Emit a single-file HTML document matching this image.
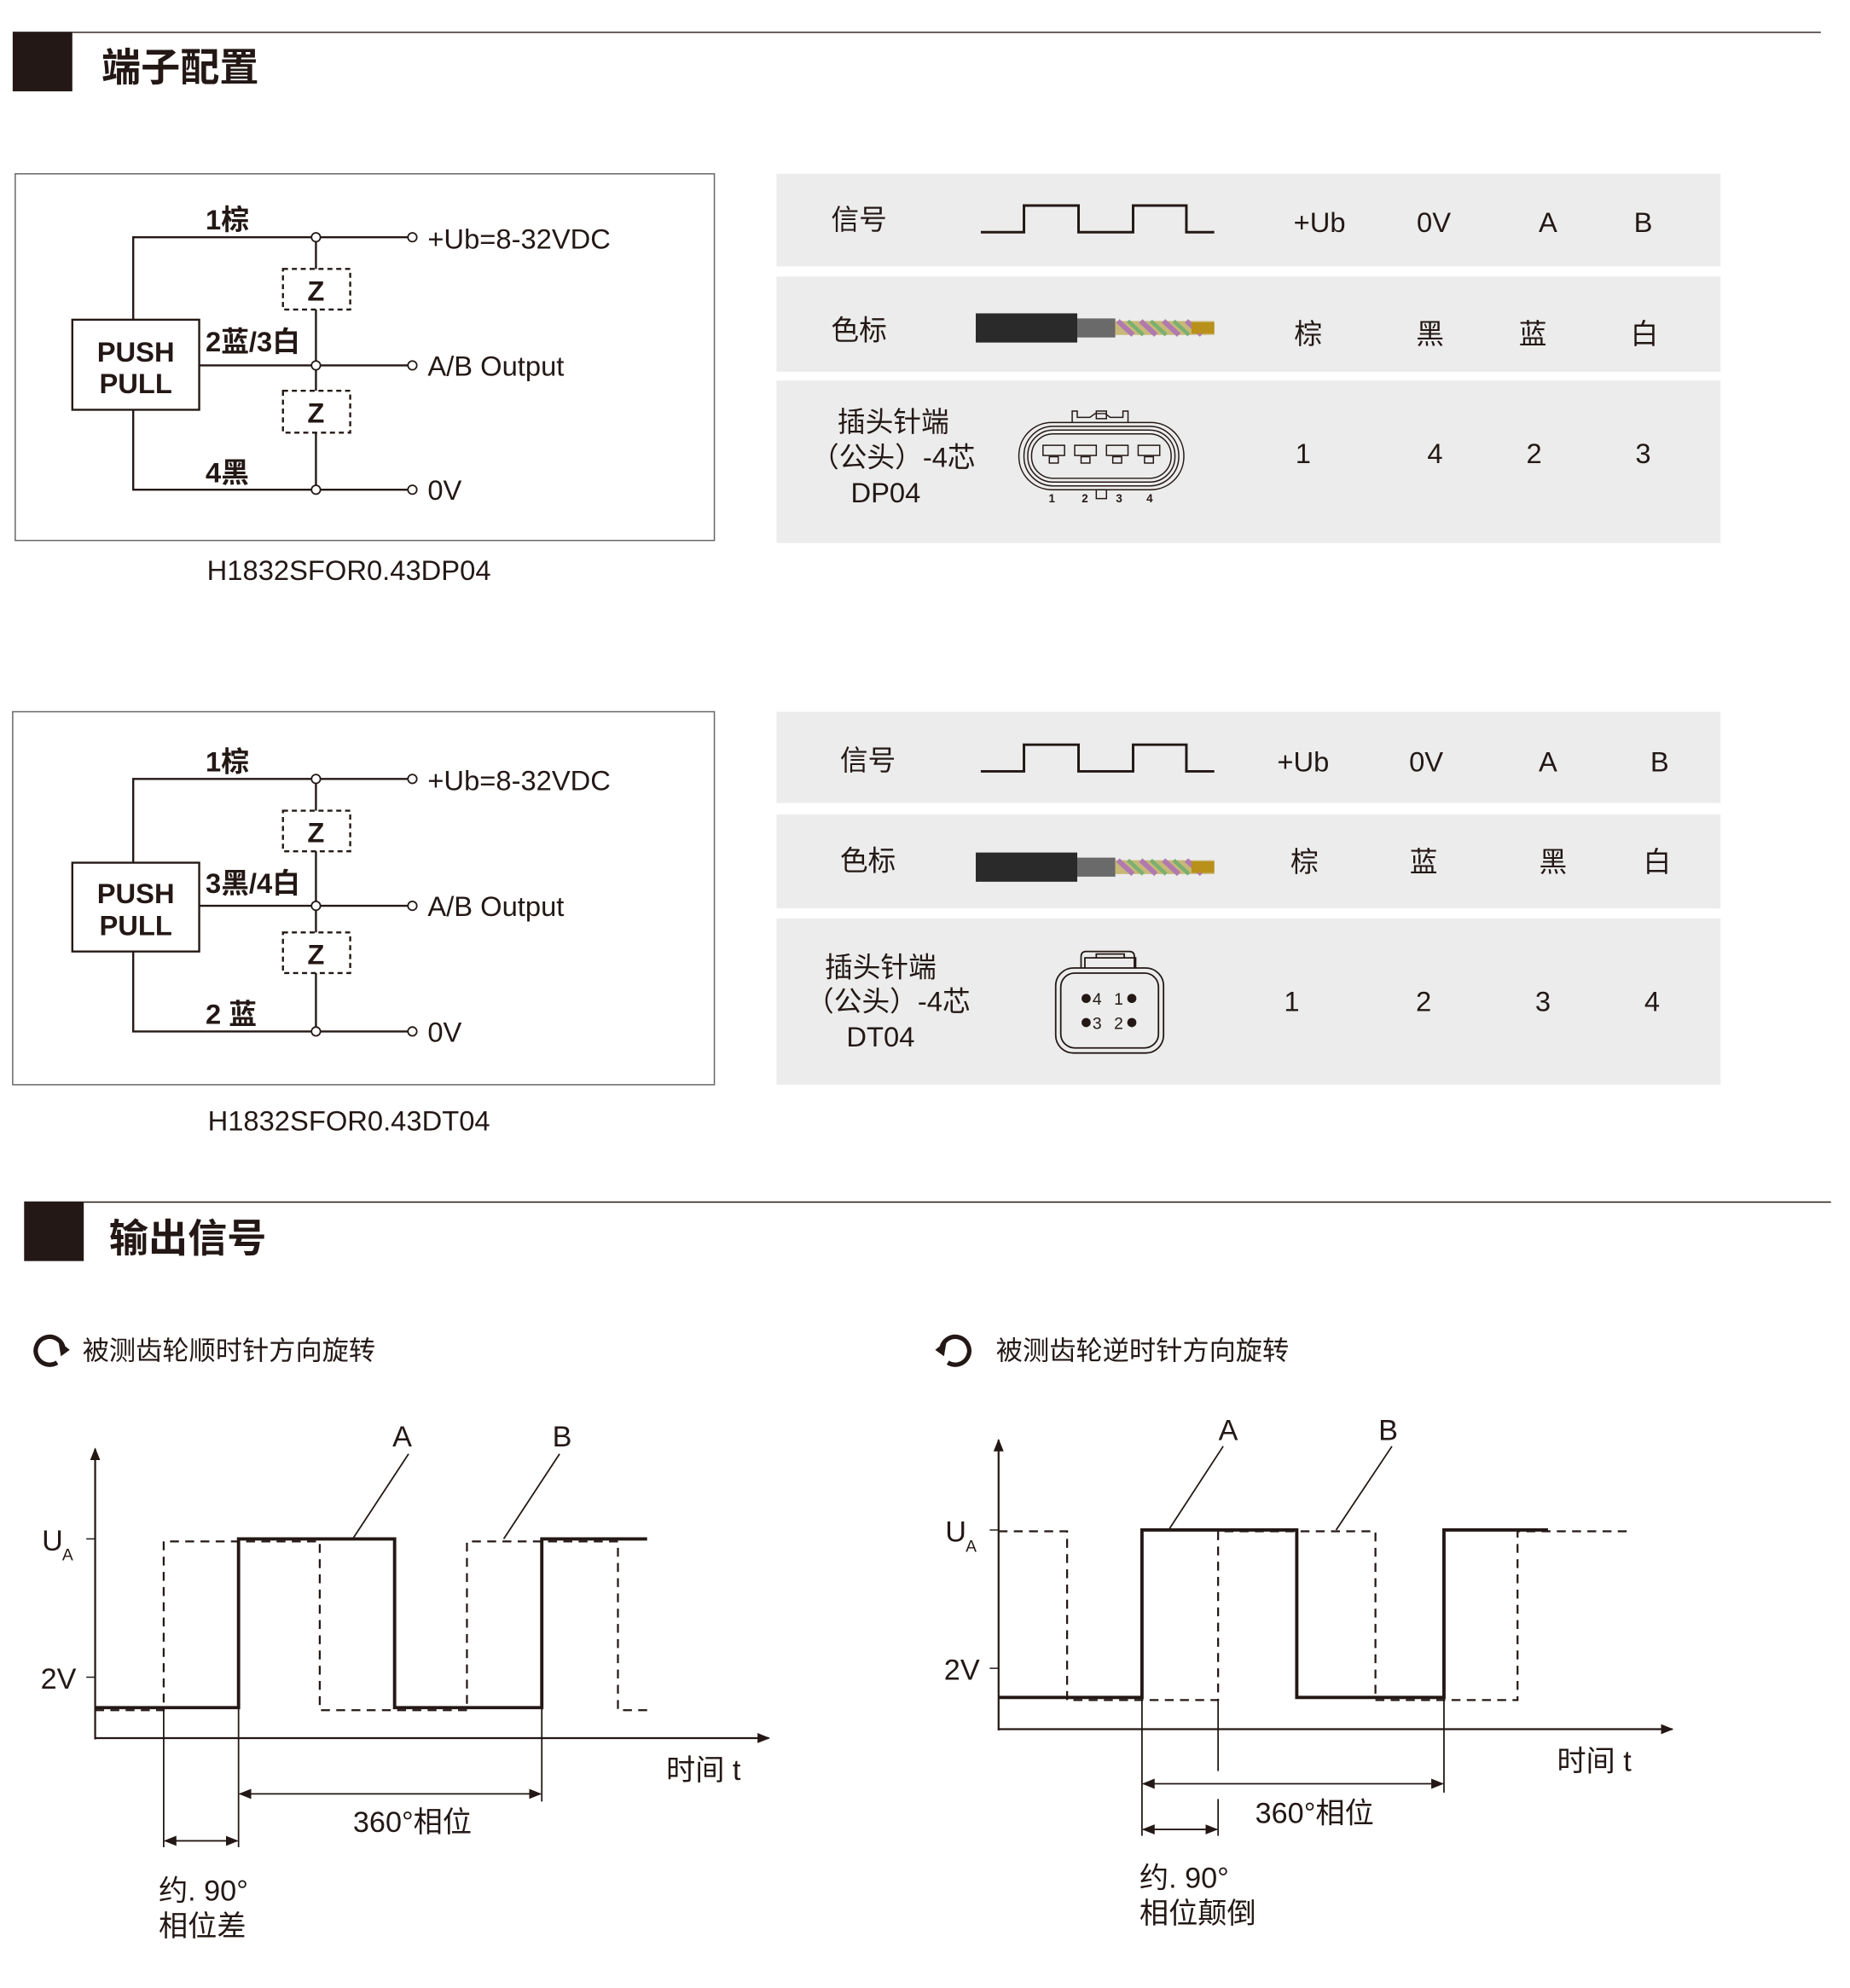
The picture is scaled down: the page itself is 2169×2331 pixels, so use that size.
<!DOCTYPE html>
<html><head><meta charset="utf-8"><style>
html,body{margin:0;padding:0;background:#fff}
svg{display:block}
text{font-family:"Liberation Sans","Noto Sans CJK SC",sans-serif;fill:#231815}
</style></head><body>
<svg width="2169" height="2331" viewBox="0 0 1458 1567" preserveAspectRatio="none" xmlns="http://www.w3.org/2000/svg">
<defs>
<g id="cable">
<rect x="0" y="0" width="80" height="23" fill="#2a2a2a"/>
<rect x="80" y="4" width="30" height="15" fill="#6a6a6a"/>
<path d="M110 6 L188 6 L188 17 L110 17Z" fill="#c8b878"/>
<path d="M112 6 l12 11 M130 6 l12 11 M148 6 l12 11 M166 6 l12 11" stroke="#b07ab0" stroke-width="4"/>
<path d="M120 6 l12 11 M138 6 l12 11 M156 6 l12 11" stroke="#7ab070" stroke-width="3"/>
<rect x="170" y="7" width="18" height="9" fill="#b8901a"/>
</g>
<marker id="ar" markerWidth="10" markerHeight="8" refX="9" refY="4" orient="auto-start-reverse" markerUnits="userSpaceOnUse"><path d="M0 0 L10 4 L0 8Z" fill="#231815"/></marker>
</defs>

<rect x="10" y="25" width="47" height="47" fill="#231815"/>
<line x1="57" y1="25.5" x2="1435" y2="25.5" stroke="#231815" stroke-width="1"/>
<text x="80" y="64" font-size="31" font-weight="bold">端子配置</text>

<g stroke="#231815" stroke-width="1.6" fill="none">
<rect x="12" y="137" width="551" height="289" stroke="#666" stroke-width="1"/>
<polyline points="105,252 105,187 325,187"/>
<polyline points="105,323 105,386 325,386"/>
<line x1="157" y1="288" x2="325" y2="288"/>
<line x1="249" y1="187" x2="249" y2="212"/><line x1="249" y1="244" x2="249" y2="308"/><line x1="249" y1="341" x2="249" y2="386"/>
<rect x="57" y="252" width="100" height="71" fill="#fff"/>
<rect x="223" y="212" width="53" height="32" stroke-dasharray="4,3"/>
<rect x="223" y="308" width="53" height="33" stroke-dasharray="4,3"/>
<g fill="#fff" stroke-width="1.2"><circle cx="249" cy="187" r="3.5"/><circle cx="249" cy="288" r="3.5"/><circle cx="249" cy="386" r="3.5"/><circle cx="325" cy="187" r="3.5"/><circle cx="325" cy="288" r="3.5"/><circle cx="325" cy="386" r="3.5"/></g>
</g>
<g font-weight="bold" font-size="22">
<text x="107" y="285" text-anchor="middle">PUSH</text><text x="107" y="310" text-anchor="middle">PULL</text>
<text x="249" y="237" text-anchor="middle">Z</text><text x="249" y="333" text-anchor="middle">Z</text>
<text x="162" y="181">1棕</text><text x="162" y="277">2蓝/3白</text><text x="162" y="380">4黑</text>
</g>
<g font-size="22"><text x="337" y="196">+Ub=8-32VDC</text><text x="337" y="296">A/B Output</text><text x="337" y="394">0V</text>
<text x="275" y="457" text-anchor="middle">H1832SFOR0.43DP04</text></g>

<g stroke="#231815" stroke-width="1.6" fill="none">
<rect x="10" y="561" width="553" height="294" stroke="#666" stroke-width="1"/>
<polyline points="105,680 105,614 325,614"/>
<polyline points="105,750 105,813 325,813"/>
<line x1="157" y1="714" x2="325" y2="714"/>
<line x1="249" y1="614" x2="249" y2="639"/><line x1="249" y1="671" x2="249" y2="735"/><line x1="249" y1="767" x2="249" y2="813"/>
<rect x="57" y="680" width="100" height="70" fill="#fff"/>
<rect x="223" y="639" width="53" height="32" stroke-dasharray="4,3"/>
<rect x="223" y="735" width="53" height="32" stroke-dasharray="4,3"/>
<g fill="#fff" stroke-width="1.2"><circle cx="249" cy="614" r="3.5"/><circle cx="249" cy="714" r="3.5"/><circle cx="249" cy="813" r="3.5"/><circle cx="325" cy="614" r="3.5"/><circle cx="325" cy="714" r="3.5"/><circle cx="325" cy="813" r="3.5"/></g>
</g>
<g font-weight="bold" font-size="22">
<text x="107" y="712" text-anchor="middle">PUSH</text><text x="107" y="737" text-anchor="middle">PULL</text>
<text x="249" y="664" text-anchor="middle">Z</text><text x="249" y="760" text-anchor="middle">Z</text>
<text x="162" y="608">1棕</text><text x="162" y="704">3黑/4白</text><text x="162" y="807">2 蓝</text>
</g>
<g font-size="22"><text x="337" y="623">+Ub=8-32VDC</text><text x="337" y="722">A/B Output</text><text x="337" y="821">0V</text>
<text x="275" y="891" text-anchor="middle">H1832SFOR0.43DT04</text></g>

<g fill="#ececec"><rect x="612" y="137" width="744" height="73"/><rect x="612" y="218" width="744" height="75"/><rect x="612" y="300" width="744" height="128"/>
<rect x="612" y="561" width="744" height="72"/><rect x="612" y="642" width="744" height="74"/><rect x="612" y="724" width="744" height="131"/></g>
<g font-size="22" text-anchor="middle">
<text x="677" y="181">信号</text>
<text x="1040" y="183">+Ub</text><text x="1130" y="183">0V</text><text x="1220" y="183">A</text><text x="1295" y="183">B</text>
<text x="677" y="268">色标</text>
<text x="1031" y="271">棕</text><text x="1127" y="271">黑</text><text x="1208" y="271">蓝</text><text x="1296" y="271">白</text>
<text x="704" y="340">插头针端</text><text x="704" y="368">（公头）-4芯</text><text x="698" y="396">DP04</text>
<text x="1027" y="365">1</text><text x="1131" y="365">4</text><text x="1209" y="365">2</text><text x="1295" y="365">3</text>

<text x="684" y="607">信号</text>
<text x="1027" y="608">+Ub</text><text x="1124" y="608">0V</text><text x="1220" y="608">A</text><text x="1308" y="608">B</text>
<text x="684" y="686">色标</text>
<text x="1028" y="687">棕</text><text x="1122" y="687">蓝</text><text x="1224" y="687">黑</text><text x="1306" y="687">白</text>
<text x="694" y="770">插头针端</text><text x="700" y="797">（公头）-4芯</text><text x="694" y="825">DT04</text>
<text x="1018" y="797">1</text><text x="1122" y="797">2</text><text x="1216" y="797">3</text><text x="1302" y="797">4</text>
</g>
<g stroke="#231815" stroke-width="2" fill="none">
<polyline points="773,183 807,183 807,162 850,162 850,183 893,183 893,162 935,162 935,183 957,183"/>
<polyline points="773,608 807,608 807,587 850,587 850,608 893,608 893,587 935,587 935,608 957,608"/>
</g>
<use href="#cable" x="769" y="247"/>
<use href="#cable" x="769" y="672"/>

<g stroke="#231815" stroke-width="1" fill="none">
<rect x="803" y="333" width="130" height="53" rx="26"/>
<rect x="807" y="336" width="122" height="47" rx="23"/>
<rect x="810" y="339" width="116" height="41" rx="20"/>
<rect x="813" y="342" width="110" height="35" rx="17"/>
<path d="M845 333 v-9 h4 v5 h10 l4 -3 h8 l4 3 h10 v-5 h4 v9"/>
<rect x="864" y="324" width="8" height="6"/>
<rect x="864" y="386" width="8" height="7"/>
<rect x="822" y="351" width="17" height="8"/><rect x="847" y="351" width="17" height="8"/><rect x="872" y="351" width="17" height="8"/><rect x="897" y="351" width="17" height="8"/>
<rect x="827" y="360" width="7" height="5"/><rect x="852" y="360" width="7" height="5"/><rect x="877" y="360" width="7" height="5"/><rect x="902" y="360" width="7" height="5"/>
</g>
<g font-size="9" font-weight="bold" text-anchor="middle"><text x="829" y="396">1</text><text x="855" y="396">2</text><text x="882" y="396">3</text><text x="906" y="396">4</text></g>

<g stroke="#231815" stroke-width="1.2" fill="none">
<rect x="832" y="763" width="85" height="67" rx="14"/>
<rect x="836" y="767" width="77" height="59" rx="11"/>
<path d="M852 763 v-9 q0 -4 4 -4 h34 q4 0 4 4 v9 M855 763 v-8 h40 v8 M864 755 v-3 h22 v3"/>
</g>
<g fill="#231815"><circle cx="856" cy="787" r="3.6"/><circle cx="892" cy="787" r="3.6"/><circle cx="856" cy="806" r="3.6"/><circle cx="892" cy="806" r="3.6"/></g>
<g font-size="13"><text x="861" y="792">4</text><text x="878" y="792">1</text><text x="861" y="811">3</text><text x="878" y="811">2</text></g>

<rect x="19" y="947" width="47" height="47" fill="#231815"/>
<line x1="66" y1="947.5" x2="1443" y2="947.5" stroke="#231815" stroke-width="1"/>
<text x="86" y="987" font-size="31" font-weight="bold">输出信号</text>

<g stroke="#231815" stroke-width="3.5" fill="none">
<path d="M45 1074 A11 11 0 1 1 50 1063"/>
<path d="M747 1074 A11 11 0 1 0 742 1063"/>
</g>
<path d="M46 1057 L55 1064 L48 1069Z" fill="#231815"/>
<path d="M746 1057 L737 1064 L744 1069Z" fill="#231815"/>
<g font-size="21"><text x="65" y="1072">被测齿轮顺时针方向旋转</text><text x="785" y="1072">被测齿轮逆时针方向旋转</text></g>

<g stroke="#231815" fill="none">
<line x1="75" y1="1371" x2="75" y2="1142" stroke-width="1.5" marker-end="url(#ar)"/>
<line x1="75" y1="1370" x2="606" y2="1370" stroke-width="1.5" marker-end="url(#ar)"/>
<line x1="68" y1="1213" x2="75" y2="1213"/><line x1="68" y1="1322" x2="75" y2="1322"/>
<polyline points="75,1346 188,1346 188,1213 311,1213 311,1346 427,1346 427,1213 510,1213" stroke-width="2.6"/>
<polyline points="75,1348 129,1348 129,1215 252,1215 252,1348 368,1348 368,1215 487,1215 487,1348 512,1348" stroke-width="1.5" stroke-dasharray="7,5"/>
<line x1="322" y1="1146" x2="278" y2="1213" stroke-width="1.2"/>
<line x1="441" y1="1146" x2="397" y2="1213" stroke-width="1.2"/>
<line x1="129" y1="1348" x2="129" y2="1456" stroke-width="1.2"/>
<line x1="188" y1="1346" x2="188" y2="1456" stroke-width="1.2"/>
<line x1="427" y1="1346" x2="427" y2="1420" stroke-width="1.2"/>
<line x1="189" y1="1414" x2="426" y2="1414" stroke-width="1.2" marker-start="url(#ar)" marker-end="url(#ar)"/>
<line x1="130" y1="1451" x2="187" y2="1451" stroke-width="1.2" marker-start="url(#ar)" marker-end="url(#ar)"/>
</g>
<g font-size="23">
<text x="33" y="1222">U</text><text x="49" y="1230" font-size="13">A</text>
<text x="32" y="1331">2V</text>
<text x="317" y="1140" text-anchor="middle">A</text><text x="443" y="1140" text-anchor="middle">B</text>
<text x="525" y="1403">时间 t</text>
<text x="325" y="1444" text-anchor="middle">360°相位</text>
<text x="125" y="1498">约. 90°</text><text x="125" y="1526">相位差</text>
</g>

<g stroke="#231815" fill="none">
<line x1="787" y1="1364" x2="787" y2="1135" stroke-width="1.5" marker-end="url(#ar)"/>
<line x1="787" y1="1363" x2="1318" y2="1363" stroke-width="1.5" marker-end="url(#ar)"/>
<line x1="780" y1="1206" x2="787" y2="1206"/><line x1="780" y1="1315" x2="787" y2="1315"/>
<polyline points="787,1338 900,1338 900,1206 1022,1206 1022,1338 1138,1338 1138,1206 1220,1206" stroke-width="2.6"/>
<polyline points="787,1207 841,1207 841,1340 960,1340 960,1207 1084,1207 1084,1340 1196,1340 1196,1207 1285,1207" stroke-width="1.5" stroke-dasharray="7,5"/>
<line x1="964" y1="1140" x2="921" y2="1206" stroke-width="1.2"/>
<line x1="1097" y1="1140" x2="1053" y2="1206" stroke-width="1.2"/>
<line x1="900" y1="1338" x2="900" y2="1447" stroke-width="1.2"/>
<line x1="960" y1="1340" x2="960" y2="1396" stroke-width="1.2"/>
<line x1="960" y1="1418" x2="960" y2="1447" stroke-width="1.2"/>
<line x1="1138" y1="1338" x2="1138" y2="1413" stroke-width="1.2"/>
<line x1="901" y1="1406" x2="1137" y2="1406" stroke-width="1.2" marker-start="url(#ar)" marker-end="url(#ar)"/>
<line x1="901" y1="1442" x2="959" y2="1442" stroke-width="1.2" marker-start="url(#ar)" marker-end="url(#ar)"/>
</g>
<g font-size="23">
<text x="745" y="1215">U</text><text x="761" y="1223" font-size="13">A</text>
<text x="744" y="1324">2V</text>
<text x="968" y="1135" text-anchor="middle">A</text><text x="1094" y="1135" text-anchor="middle">B</text>
<text x="1227" y="1396">时间 t</text>
<text x="1036" y="1437" text-anchor="middle">360°相位</text>
<text x="898" y="1488">约. 90°</text><text x="898" y="1516">相位颠倒</text>
</g>
</svg>
</body></html>
